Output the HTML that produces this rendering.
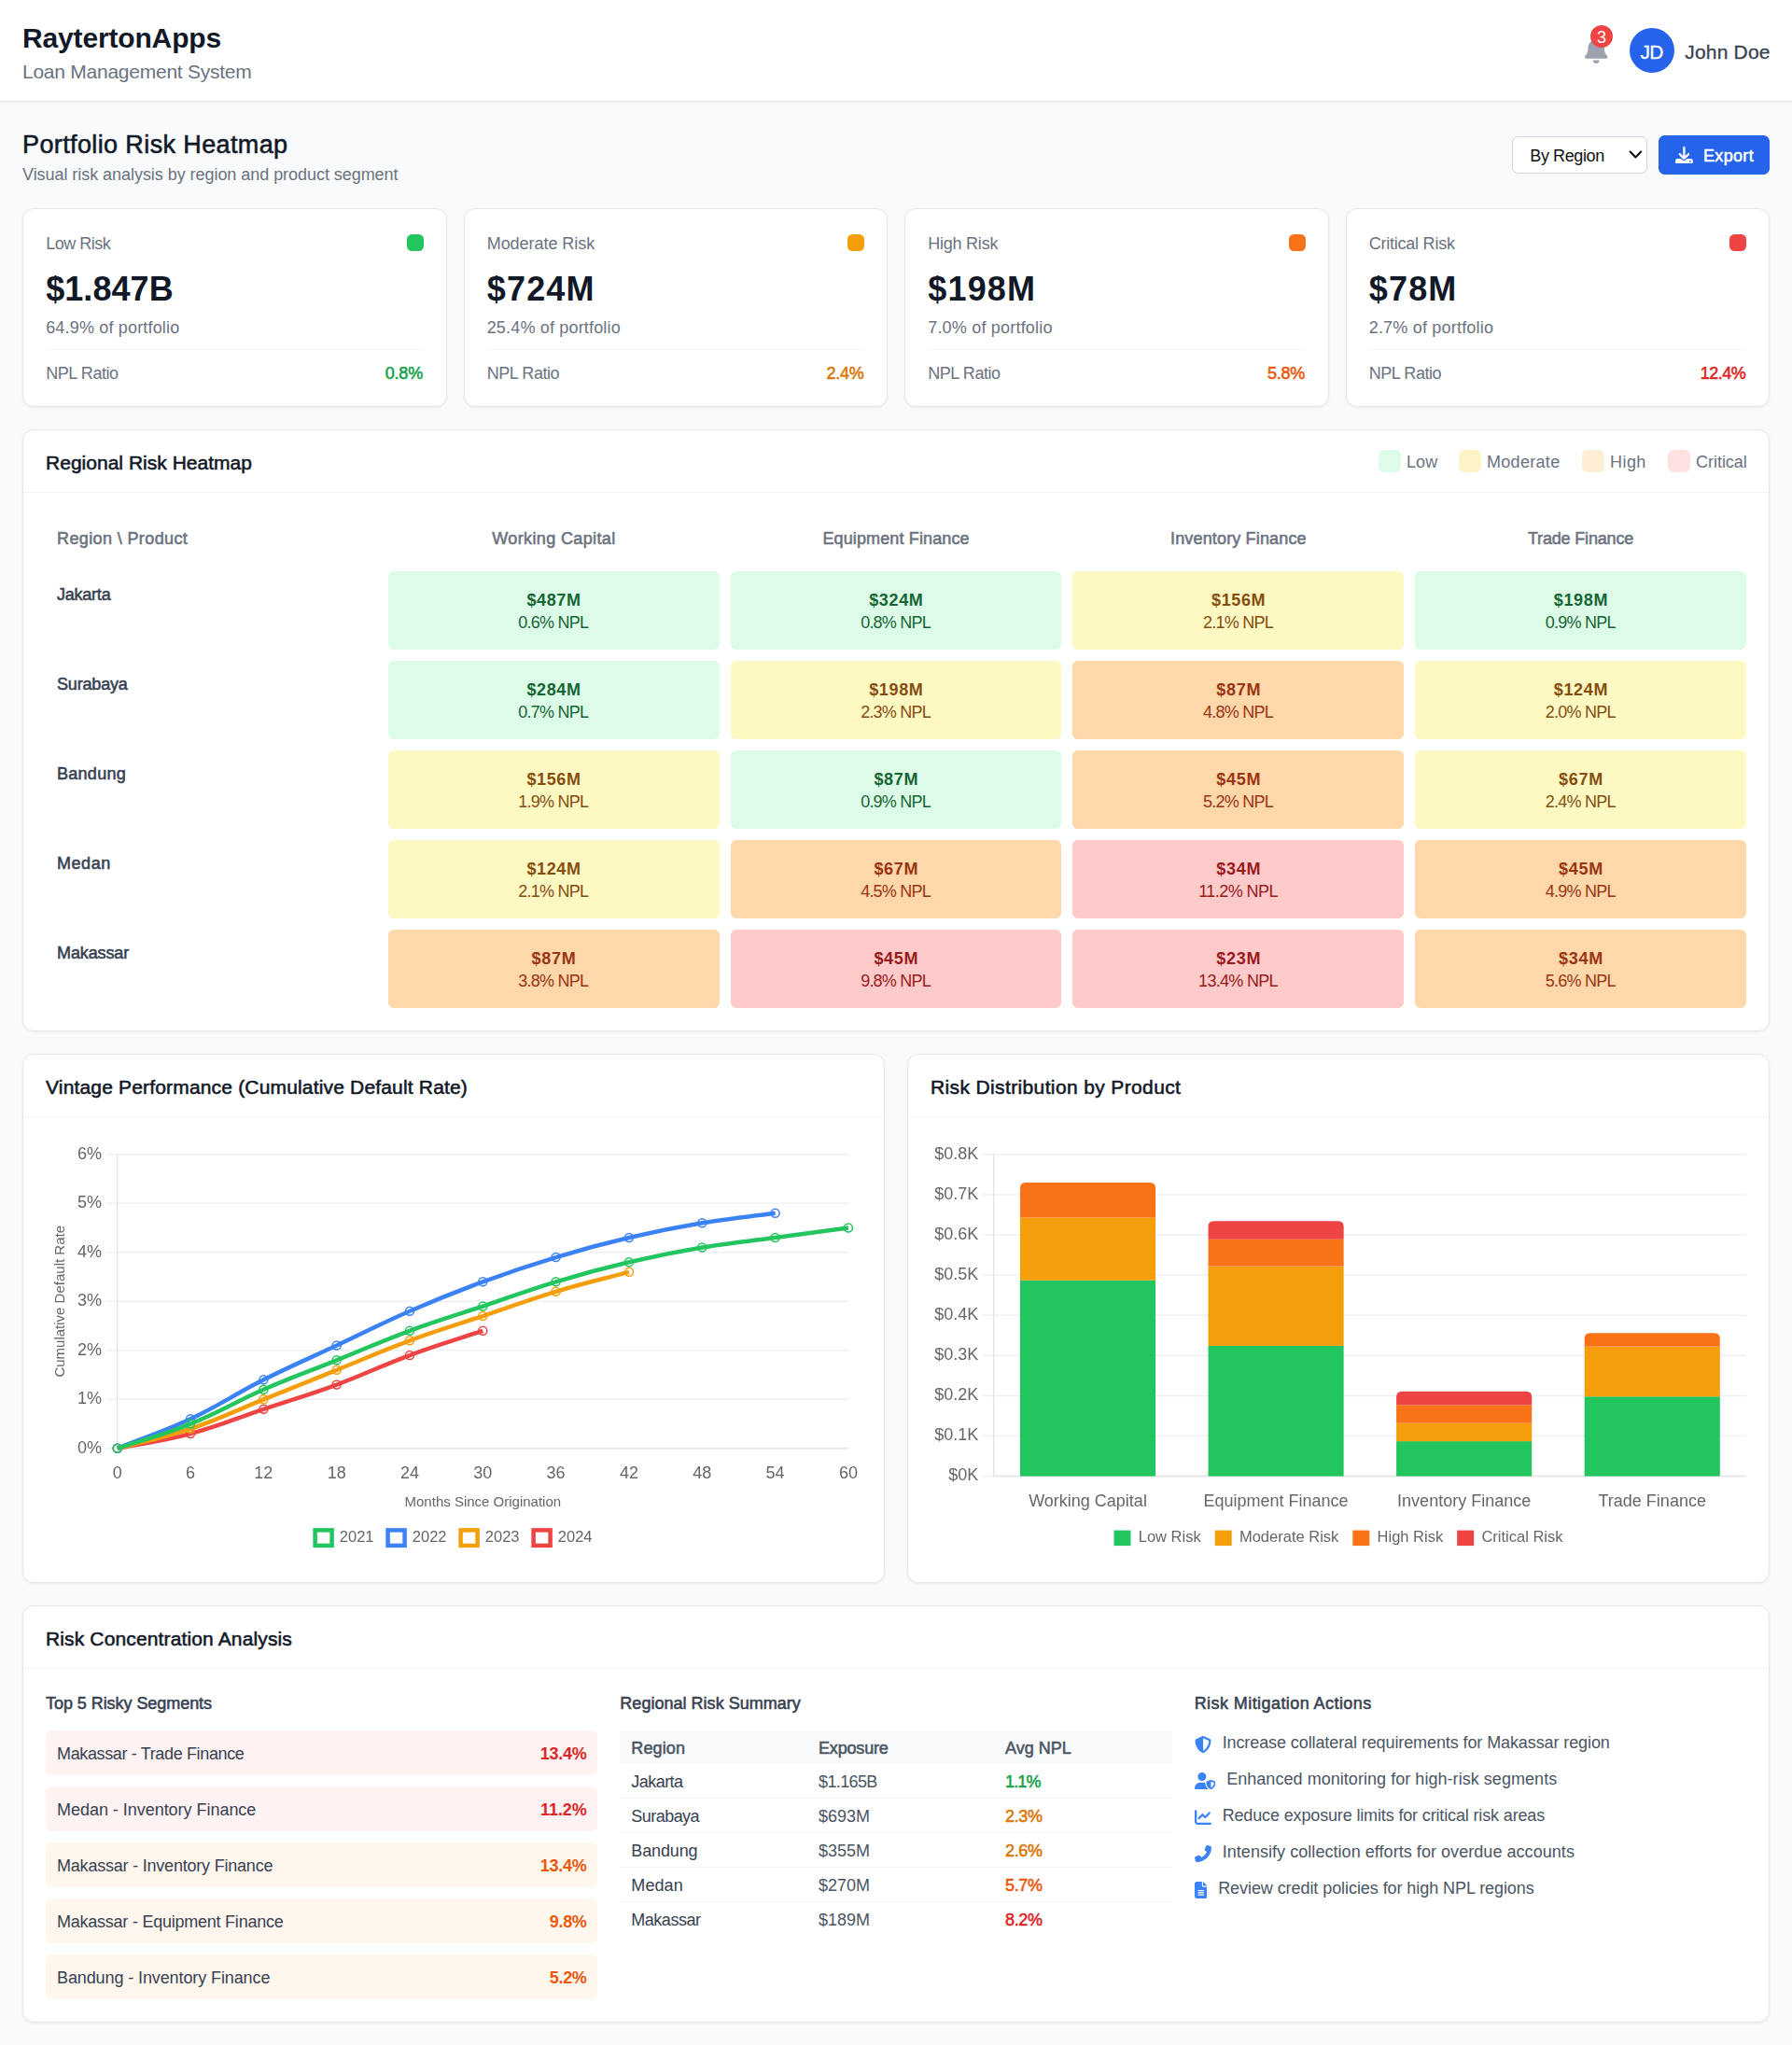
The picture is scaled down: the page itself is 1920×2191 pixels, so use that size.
<!DOCTYPE html>
<html><head><meta charset="utf-8"><title>Portfolio Risk Heatmap</title>
<style>
html,body{margin:0;padding:0}
body{width:1920px;height:2191px;background:#f9fafb;position:relative;overflow-x:hidden;font-family:"Liberation Sans",sans-serif;}
#p{position:absolute;left:0;top:0;width:1920px;height:2191px;overflow:hidden}
#p div,#p span,#p svg{position:absolute}
.t{white-space:nowrap;display:block}
</style></head><body><div id="p">
<header>
<div style="left:0px;top:0px;width:1920px;height:108px;background:#fff;border-bottom:1px solid #e5e7eb;box-shadow:0 1px 3px rgba(0,0,0,.05);"></div>
<span class="t" style="top:26.00px;font-size:30px;line-height:30px;color:#111827;letter-spacing:-0.156px;font-weight:700;left:24.00px;">RaytertonApps</span>
<span class="t" style="top:66.22px;font-size:21px;line-height:21px;color:#6b7280;letter-spacing:-0.249px;left:24.00px;">Loan Management System</span>
<svg style="left:1698.2px;top:39.9px;width:24.5px;height:28px" viewBox="0 0 448 512"><path fill="#9ca3af" d="M224 0c-17.700 0-32 14.300-32 32V51.200C119 66 64 130.600 64 208v18.800c0 47-17.300 92.400-48.500 127.600l-7.400 8.300c-8.400 9.400-10.400 22.900-5.300 34.400S19.400 416 32 416H416c12.600 0 24-7.400 29.200-18.900s3.100-25-5.300-34.400l-7.400-8.300C401.300 319.200 384 273.900 384 226.800V208c0-77.400-55-142-128-156.800V32c0-17.700-14.300-32-32-32zm45.300 493.300c12-12 18.700-28.300 18.700-45.300H224 160c0 17 6.700 33.300 18.700 45.300s28.300 18.700 45.300 18.700s33.300-6.700 45.300-18.700z"/></svg>
<div style="left:1704px;top:27px;width:24px;height:24px;background:#ef4444;border-radius:50%;"></div>
<span class="t" style="top:30.96px;font-size:18px;line-height:18px;color:#fff;letter-spacing:-0.011px;left:1710.99px;">3</span>
<div style="left:1746px;top:30px;width:48px;height:48px;background:#2563eb;border-radius:50%;"></div>
<span class="t" style="top:44.52px;font-size:21px;line-height:21px;color:#fff;letter-spacing:-0.583px;-webkit-text-stroke:0.3px;left:1757.46px;">JD</span>
<span class="t" style="top:45.12px;font-size:21px;line-height:21px;color:#374151;letter-spacing:0.200px;-webkit-text-stroke:0.3px;left:1805.20px;">John Doe</span>
</header><main><section aria-label="Summary">
<span class="t" style="top:142.14px;font-size:27px;line-height:27px;color:#111827;letter-spacing:0.382px;-webkit-text-stroke:0.55px;left:24.00px;">Portfolio Risk Heatmap</span>
<span class="t" style="top:178.46px;font-size:18px;line-height:18px;color:#6b7280;letter-spacing:-0.048px;left:24.00px;">Visual risk analysis by region and product segment</span>
<div style="left:1620px;top:146px;width:145px;height:40px;background:#fff;border:1px solid #d1d5db;border-radius:6.5px;box-sizing:border-box;"></div>
<span class="t" style="top:157.66px;font-size:18px;line-height:18px;color:#111;letter-spacing:-0.394px;left:1639.30px;">By Region</span>
<svg style="left:1744px;top:159px;width:17px;height:14px" viewBox="0 0 17 14"><path d="M2.6 3.6 L8.4 9.6 L14.2 3.6" fill="none" stroke="#111" stroke-width="2.1" stroke-linecap="round" stroke-linejoin="round"/></svg>
<div style="left:1777px;top:145px;width:119px;height:42px;background:#2563eb;border-radius:6.5px;"></div>
<svg style="left:1795px;top:156.6px;width:18.8px;height:18.8px" viewBox="0 0 512 512"><path fill="#fff" d="M288 32c0-17.700-14.300-32-32-32s-32 14.300-32 32V274.700l-73.400-73.400c-12.500-12.500-32.800-12.500-45.300 0s-12.500 32.800 0 45.300l128 128c12.500 12.500 32.800 12.500 45.300 0l128-128c12.500-12.500 12.500-32.800 0-45.300s-32.800-12.500-45.300 0L288 274.700V32zM64 352c-35.300 0-64 28.700-64 64v32c0 35.300 28.700 64 64 64H448c35.300 0 64-28.700 64-64V416c0-35.300-28.700-64-64-64H346.500l-45.300 45.300c-25 25-65.500 25-90.500 0L165.500 352H64zm368 56a24 24 0 1 1 0 48 24 24 0 1 1 0-48z"/></svg>
<span class="t" style="top:157.66px;font-size:18px;line-height:18px;color:#fff;letter-spacing:0.330px;-webkit-text-stroke:0.55px;left:1825.00px;">Export</span>
<div style="left:24px;top:223px;width:454.5px;height:213px;background:#fff;border:1px solid #e5e7eb;border-radius:12px;box-shadow:0 1px 3px rgba(0,0,0,.06);box-sizing:border-box;"></div>
<span class="t" style="top:252.16px;font-size:18px;line-height:18px;color:#6b7280;letter-spacing:-0.502px;left:49.20px;">Low Risk</span>
<div style="left:435.5px;top:251px;width:18px;height:18px;background:#22c55e;border-radius:5.5px;"></div>
<span class="t" style="top:292.13px;font-size:36px;line-height:36px;color:#111827;letter-spacing:0.056px;font-weight:700;left:49.20px;">$1.847B</span>
<span class="t" style="top:342.26px;font-size:18px;line-height:18px;color:#6b7280;letter-spacing:0.173px;left:49.20px;">64.9% of portfolio</span>
<div style="left:49px;top:374px;width:404.5px;height:1px;background:#f3f4f6;"></div>
<span class="t" style="top:391.06px;font-size:18px;line-height:18px;color:#6b7280;letter-spacing:-0.430px;left:49.20px;">NPL Ratio</span>
<span class="t" style="top:391.06px;font-size:18px;line-height:18px;color:#16a34a;letter-spacing:-0.182px;-webkit-text-stroke:0.55px;left:412.72px;">0.8%</span>
<div style="left:496.5px;top:223px;width:454.5px;height:213px;background:#fff;border:1px solid #e5e7eb;border-radius:12px;box-shadow:0 1px 3px rgba(0,0,0,.06);box-sizing:border-box;"></div>
<span class="t" style="top:252.16px;font-size:18px;line-height:18px;color:#6b7280;letter-spacing:-0.042px;left:521.70px;">Moderate Risk</span>
<div style="left:908px;top:251px;width:18px;height:18px;background:#f59e0b;border-radius:5.5px;"></div>
<span class="t" style="top:292.13px;font-size:36px;line-height:36px;color:#111827;letter-spacing:1.200px;font-weight:700;left:521.70px;">$724M</span>
<span class="t" style="top:342.26px;font-size:18px;line-height:18px;color:#6b7280;letter-spacing:0.173px;left:521.70px;">25.4% of portfolio</span>
<div style="left:521.5px;top:374px;width:404.5px;height:1px;background:#f3f4f6;"></div>
<span class="t" style="top:391.06px;font-size:18px;line-height:18px;color:#6b7280;letter-spacing:-0.430px;left:521.70px;">NPL Ratio</span>
<span class="t" style="top:391.06px;font-size:18px;line-height:18px;color:#d97706;letter-spacing:-0.257px;-webkit-text-stroke:0.55px;left:885.44px;">2.4%</span>
<div style="left:969px;top:223px;width:454.5px;height:213px;background:#fff;border:1px solid #e5e7eb;border-radius:12px;box-shadow:0 1px 3px rgba(0,0,0,.06);box-sizing:border-box;"></div>
<span class="t" style="top:252.16px;font-size:18px;line-height:18px;color:#6b7280;letter-spacing:-0.224px;left:994.20px;">High Risk</span>
<div style="left:1380.5px;top:251px;width:18px;height:18px;background:#f97316;border-radius:5.5px;"></div>
<span class="t" style="top:292.13px;font-size:36px;line-height:36px;color:#111827;letter-spacing:1.200px;font-weight:700;left:994.20px;">$198M</span>
<span class="t" style="top:342.26px;font-size:18px;line-height:18px;color:#6b7280;letter-spacing:0.201px;left:994.20px;">7.0% of portfolio</span>
<div style="left:994px;top:374px;width:404.5px;height:1px;background:#f3f4f6;"></div>
<span class="t" style="top:391.06px;font-size:18px;line-height:18px;color:#6b7280;letter-spacing:-0.430px;left:994.20px;">NPL Ratio</span>
<span class="t" style="top:391.06px;font-size:18px;line-height:18px;color:#ea580c;letter-spacing:-0.257px;-webkit-text-stroke:0.55px;left:1357.94px;">5.8%</span>
<div style="left:1441.5px;top:223px;width:454.5px;height:213px;background:#fff;border:1px solid #e5e7eb;border-radius:12px;box-shadow:0 1px 3px rgba(0,0,0,.06);box-sizing:border-box;"></div>
<span class="t" style="top:252.16px;font-size:18px;line-height:18px;color:#6b7280;letter-spacing:-0.231px;left:1466.70px;">Critical Risk</span>
<div style="left:1853px;top:251px;width:18px;height:18px;background:#ef4444;border-radius:5.5px;"></div>
<span class="t" style="top:292.13px;font-size:36px;line-height:36px;color:#111827;letter-spacing:1.200px;font-weight:700;left:1466.70px;">$78M</span>
<span class="t" style="top:342.26px;font-size:18px;line-height:18px;color:#6b7280;letter-spacing:0.201px;left:1466.70px;">2.7% of portfolio</span>
<div style="left:1466.5px;top:374px;width:404.5px;height:1px;background:#f3f4f6;"></div>
<span class="t" style="top:391.06px;font-size:18px;line-height:18px;color:#6b7280;letter-spacing:-0.430px;left:1466.70px;">NPL Ratio</span>
<span class="t" style="top:391.06px;font-size:18px;line-height:18px;color:#dc2626;letter-spacing:-0.548px;-webkit-text-stroke:0.55px;left:1821.85px;">12.4%</span>
</section>
<section aria-label="Regional Risk Heatmap">
<div style="left:24px;top:460px;width:1872px;height:645px;background:#fff;border:1px solid #e5e7eb;border-radius:12px;box-shadow:0 1px 3px rgba(0,0,0,.06);box-sizing:border-box;"></div>
<span class="t" style="top:485.12px;font-size:21px;line-height:21px;color:#111827;letter-spacing:0.019px;-webkit-text-stroke:0.55px;left:49.00px;">Regional Risk Heatmap</span>
<div style="left:25px;top:527px;width:1870px;height:1px;background:#f3f4f6;"></div>
<div style="left:1477px;top:482px;width:24px;height:24px;background:#dcfce7;border-radius:6px;"></div>
<span class="t" style="top:486.16px;font-size:18px;line-height:18px;color:#6b7280;letter-spacing:0.060px;left:1507.00px;">Low</span>
<div style="left:1563px;top:482px;width:24px;height:24px;background:#fef3c7;border-radius:6px;"></div>
<span class="t" style="top:486.16px;font-size:18px;line-height:18px;color:#6b7280;letter-spacing:0.307px;left:1593.00px;">Moderate</span>
<div style="left:1695px;top:482px;width:24px;height:24px;background:#ffedd5;border-radius:6px;"></div>
<span class="t" style="top:486.16px;font-size:18px;line-height:18px;color:#6b7280;letter-spacing:0.445px;left:1725.00px;">High</span>
<div style="left:1787px;top:482px;width:24px;height:24px;background:#fee2e2;border-radius:6px;"></div>
<span class="t" style="top:486.16px;font-size:18px;line-height:18px;color:#6b7280;letter-spacing:-0.025px;left:1817.00px;">Critical</span>
<span class="t" style="top:568.06px;font-size:18px;line-height:18px;color:#6b7280;letter-spacing:0.381px;-webkit-text-stroke:0.55px;left:61.00px;">Region \ Product</span>
<span class="t" style="top:568.06px;font-size:18px;line-height:18px;color:#6b7280;letter-spacing:0.372px;-webkit-text-stroke:0.55px;left:527.24px;">Working Capital</span>
<span class="t" style="top:568.06px;font-size:18px;line-height:18px;color:#6b7280;letter-spacing:0.134px;-webkit-text-stroke:0.55px;left:881.38px;">Equipment Finance</span>
<span class="t" style="top:568.06px;font-size:18px;line-height:18px;color:#6b7280;letter-spacing:0.154px;-webkit-text-stroke:0.55px;left:1254.03px;">Inventory Finance</span>
<span class="t" style="top:568.06px;font-size:18px;line-height:18px;color:#6b7280;letter-spacing:-0.169px;-webkit-text-stroke:0.55px;left:1636.92px;">Trade Finance</span>
<span class="t" style="top:627.96px;font-size:18px;line-height:18px;color:#374151;letter-spacing:-0.229px;-webkit-text-stroke:0.55px;left:61.00px;">Jakarta</span>
<div style="left:415.8px;top:612px;width:354.8px;height:84px;background:#dcfce7;border-radius:6px;"></div>
<span class="t" style="top:634.06px;font-size:18px;line-height:18px;color:#166534;letter-spacing:0.635px;font-weight:700;left:564.41px;">$487M</span>
<span class="t" style="top:658.06px;font-size:18px;line-height:18px;color:#166534;letter-spacing:-0.759px;left:555.34px;">0.6% NPL</span>
<div style="left:782.6px;top:612px;width:354.8px;height:84px;background:#dcfce7;border-radius:6px;"></div>
<span class="t" style="top:634.06px;font-size:18px;line-height:18px;color:#166534;letter-spacing:0.635px;font-weight:700;left:931.21px;">$324M</span>
<span class="t" style="top:658.06px;font-size:18px;line-height:18px;color:#166534;letter-spacing:-0.759px;left:922.14px;">0.8% NPL</span>
<div style="left:1149.4px;top:612px;width:354.8px;height:84px;background:#fef9c3;border-radius:6px;"></div>
<span class="t" style="top:634.06px;font-size:18px;line-height:18px;color:#854d0e;letter-spacing:0.635px;font-weight:700;left:1298.01px;">$156M</span>
<span class="t" style="top:658.06px;font-size:18px;line-height:18px;color:#854d0e;letter-spacing:-0.759px;left:1288.94px;">2.1% NPL</span>
<div style="left:1516.2px;top:612px;width:354.8px;height:84px;background:#dcfce7;border-radius:6px;"></div>
<span class="t" style="top:634.06px;font-size:18px;line-height:18px;color:#166534;letter-spacing:0.635px;font-weight:700;left:1664.81px;">$198M</span>
<span class="t" style="top:658.06px;font-size:18px;line-height:18px;color:#166534;letter-spacing:-0.759px;left:1655.74px;">0.9% NPL</span>
<span class="t" style="top:723.96px;font-size:18px;line-height:18px;color:#374151;letter-spacing:-0.178px;-webkit-text-stroke:0.55px;left:61.00px;">Surabaya</span>
<div style="left:415.8px;top:708px;width:354.8px;height:84px;background:#dcfce7;border-radius:6px;"></div>
<span class="t" style="top:730.06px;font-size:18px;line-height:18px;color:#166534;letter-spacing:0.635px;font-weight:700;left:564.41px;">$284M</span>
<span class="t" style="top:754.06px;font-size:18px;line-height:18px;color:#166534;letter-spacing:-0.759px;left:555.34px;">0.7% NPL</span>
<div style="left:782.6px;top:708px;width:354.8px;height:84px;background:#fef9c3;border-radius:6px;"></div>
<span class="t" style="top:730.06px;font-size:18px;line-height:18px;color:#854d0e;letter-spacing:0.635px;font-weight:700;left:931.21px;">$198M</span>
<span class="t" style="top:754.06px;font-size:18px;line-height:18px;color:#854d0e;letter-spacing:-0.759px;left:922.14px;">2.3% NPL</span>
<div style="left:1149.4px;top:708px;width:354.8px;height:84px;background:#fed7aa;border-radius:6px;"></div>
<span class="t" style="top:730.06px;font-size:18px;line-height:18px;color:#9a3412;letter-spacing:0.728px;font-weight:700;left:1303.19px;">$87M</span>
<span class="t" style="top:754.06px;font-size:18px;line-height:18px;color:#9a3412;letter-spacing:-0.759px;left:1288.94px;">4.8% NPL</span>
<div style="left:1516.2px;top:708px;width:354.8px;height:84px;background:#fef9c3;border-radius:6px;"></div>
<span class="t" style="top:730.06px;font-size:18px;line-height:18px;color:#854d0e;letter-spacing:0.635px;font-weight:700;left:1664.81px;">$124M</span>
<span class="t" style="top:754.06px;font-size:18px;line-height:18px;color:#854d0e;letter-spacing:-0.759px;left:1655.74px;">2.0% NPL</span>
<span class="t" style="top:819.96px;font-size:18px;line-height:18px;color:#374151;letter-spacing:0.279px;-webkit-text-stroke:0.55px;left:61.00px;">Bandung</span>
<div style="left:415.8px;top:804px;width:354.8px;height:84px;background:#fef9c3;border-radius:6px;"></div>
<span class="t" style="top:826.06px;font-size:18px;line-height:18px;color:#854d0e;letter-spacing:0.635px;font-weight:700;left:564.41px;">$156M</span>
<span class="t" style="top:850.06px;font-size:18px;line-height:18px;color:#854d0e;letter-spacing:-0.759px;left:555.34px;">1.9% NPL</span>
<div style="left:782.6px;top:804px;width:354.8px;height:84px;background:#dcfce7;border-radius:6px;"></div>
<span class="t" style="top:826.06px;font-size:18px;line-height:18px;color:#166534;letter-spacing:0.728px;font-weight:700;left:936.39px;">$87M</span>
<span class="t" style="top:850.06px;font-size:18px;line-height:18px;color:#166534;letter-spacing:-0.759px;left:922.14px;">0.9% NPL</span>
<div style="left:1149.4px;top:804px;width:354.8px;height:84px;background:#fed7aa;border-radius:6px;"></div>
<span class="t" style="top:826.06px;font-size:18px;line-height:18px;color:#9a3412;letter-spacing:0.728px;font-weight:700;left:1303.19px;">$45M</span>
<span class="t" style="top:850.06px;font-size:18px;line-height:18px;color:#9a3412;letter-spacing:-0.759px;left:1288.94px;">5.2% NPL</span>
<div style="left:1516.2px;top:804px;width:354.8px;height:84px;background:#fef9c3;border-radius:6px;"></div>
<span class="t" style="top:826.06px;font-size:18px;line-height:18px;color:#854d0e;letter-spacing:0.728px;font-weight:700;left:1669.99px;">$67M</span>
<span class="t" style="top:850.06px;font-size:18px;line-height:18px;color:#854d0e;letter-spacing:-0.759px;left:1655.74px;">2.4% NPL</span>
<span class="t" style="top:915.96px;font-size:18px;line-height:18px;color:#374151;letter-spacing:0.537px;-webkit-text-stroke:0.55px;left:61.00px;">Medan</span>
<div style="left:415.8px;top:900px;width:354.8px;height:84px;background:#fef9c3;border-radius:6px;"></div>
<span class="t" style="top:922.06px;font-size:18px;line-height:18px;color:#854d0e;letter-spacing:0.635px;font-weight:700;left:564.41px;">$124M</span>
<span class="t" style="top:946.06px;font-size:18px;line-height:18px;color:#854d0e;letter-spacing:-0.759px;left:555.34px;">2.1% NPL</span>
<div style="left:782.6px;top:900px;width:354.8px;height:84px;background:#fed7aa;border-radius:6px;"></div>
<span class="t" style="top:922.06px;font-size:18px;line-height:18px;color:#9a3412;letter-spacing:0.728px;font-weight:700;left:936.39px;">$67M</span>
<span class="t" style="top:946.06px;font-size:18px;line-height:18px;color:#9a3412;letter-spacing:-0.759px;left:922.14px;">4.5% NPL</span>
<div style="left:1149.4px;top:900px;width:354.8px;height:84px;background:#fecaca;border-radius:6px;"></div>
<span class="t" style="top:922.06px;font-size:18px;line-height:18px;color:#991b1b;letter-spacing:0.728px;font-weight:700;left:1303.19px;">$34M</span>
<span class="t" style="top:946.06px;font-size:18px;line-height:18px;color:#991b1b;letter-spacing:-0.561px;left:1284.18px;">11.2% NPL</span>
<div style="left:1516.2px;top:900px;width:354.8px;height:84px;background:#fed7aa;border-radius:6px;"></div>
<span class="t" style="top:922.06px;font-size:18px;line-height:18px;color:#9a3412;letter-spacing:0.728px;font-weight:700;left:1669.99px;">$45M</span>
<span class="t" style="top:946.06px;font-size:18px;line-height:18px;color:#9a3412;letter-spacing:-0.759px;left:1655.74px;">4.9% NPL</span>
<span class="t" style="top:1011.96px;font-size:18px;line-height:18px;color:#374151;letter-spacing:-0.116px;-webkit-text-stroke:0.55px;left:61.00px;">Makassar</span>
<div style="left:415.8px;top:996px;width:354.8px;height:84px;background:#fed7aa;border-radius:6px;"></div>
<span class="t" style="top:1018.06px;font-size:18px;line-height:18px;color:#9a3412;letter-spacing:0.728px;font-weight:700;left:569.59px;">$87M</span>
<span class="t" style="top:1042.06px;font-size:18px;line-height:18px;color:#9a3412;letter-spacing:-0.759px;left:555.34px;">3.8% NPL</span>
<div style="left:782.6px;top:996px;width:354.8px;height:84px;background:#fecaca;border-radius:6px;"></div>
<span class="t" style="top:1018.06px;font-size:18px;line-height:18px;color:#991b1b;letter-spacing:0.728px;font-weight:700;left:936.39px;">$45M</span>
<span class="t" style="top:1042.06px;font-size:18px;line-height:18px;color:#991b1b;letter-spacing:-0.759px;left:922.14px;">9.8% NPL</span>
<div style="left:1149.4px;top:996px;width:354.8px;height:84px;background:#fecaca;border-radius:6px;"></div>
<span class="t" style="top:1018.06px;font-size:18px;line-height:18px;color:#991b1b;letter-spacing:0.728px;font-weight:700;left:1303.19px;">$23M</span>
<span class="t" style="top:1042.06px;font-size:18px;line-height:18px;color:#991b1b;letter-spacing:-0.709px;left:1284.11px;">13.4% NPL</span>
<div style="left:1516.2px;top:996px;width:354.8px;height:84px;background:#fed7aa;border-radius:6px;"></div>
<span class="t" style="top:1018.06px;font-size:18px;line-height:18px;color:#9a3412;letter-spacing:0.728px;font-weight:700;left:1669.99px;">$34M</span>
<span class="t" style="top:1042.06px;font-size:18px;line-height:18px;color:#9a3412;letter-spacing:-0.759px;left:1655.74px;">5.6% NPL</span>
</section>
<section aria-label="Charts">
<div style="left:24px;top:1129px;width:924px;height:567px;background:#fff;border:1px solid #e5e7eb;border-radius:12px;box-shadow:0 1px 3px rgba(0,0,0,.06);box-sizing:border-box;"></div>
<div style="left:972px;top:1129px;width:924px;height:567px;background:#fff;border:1px solid #e5e7eb;border-radius:12px;box-shadow:0 1px 3px rgba(0,0,0,.06);box-sizing:border-box;"></div>
<span class="t" style="top:1154.02px;font-size:21px;line-height:21px;color:#111827;letter-spacing:0.171px;-webkit-text-stroke:0.55px;left:49.00px;">Vintage Performance (Cumulative Default Rate)</span>
<span class="t" style="top:1154.02px;font-size:21px;line-height:21px;color:#111827;letter-spacing:0.370px;-webkit-text-stroke:0.55px;left:997.00px;">Risk Distribution by Product</span>
<div style="left:25px;top:1196px;width:922px;height:1px;background:#f3f4f6;"></div>
<div style="left:973px;top:1196px;width:922px;height:1px;background:#f3f4f6;"></div>
<svg style="left:0;top:1197px;width:1920px;height:498px;will-change:transform" viewBox="0 1197 1920 498"><line x1="113.75" x2="908.9" y1="1551.80" y2="1551.80" stroke="#edf1f6" stroke-width="1.5"/><text x="108.90" y="1556.50" font-size="18" text-anchor="end" fill="#666666" font-family="Liberation Sans, sans-serif" >0%</text><line x1="113.75" x2="908.9" y1="1499.30" y2="1499.30" stroke="#edf1f6" stroke-width="1.5"/><text x="108.90" y="1504.00" font-size="18" text-anchor="end" fill="#666666" font-family="Liberation Sans, sans-serif" >1%</text><line x1="113.75" x2="908.9" y1="1446.80" y2="1446.80" stroke="#edf1f6" stroke-width="1.5"/><text x="108.90" y="1451.50" font-size="18" text-anchor="end" fill="#666666" font-family="Liberation Sans, sans-serif" >2%</text><line x1="113.75" x2="908.9" y1="1394.30" y2="1394.30" stroke="#edf1f6" stroke-width="1.5"/><text x="108.90" y="1399.00" font-size="18" text-anchor="end" fill="#666666" font-family="Liberation Sans, sans-serif" >3%</text><line x1="113.75" x2="908.9" y1="1341.80" y2="1341.80" stroke="#edf1f6" stroke-width="1.5"/><text x="108.90" y="1346.50" font-size="18" text-anchor="end" fill="#666666" font-family="Liberation Sans, sans-serif" >4%</text><line x1="113.75" x2="908.9" y1="1289.30" y2="1289.30" stroke="#edf1f6" stroke-width="1.5"/><text x="108.90" y="1294.00" font-size="18" text-anchor="end" fill="#666666" font-family="Liberation Sans, sans-serif" >5%</text><line x1="113.75" x2="908.9" y1="1236.80" y2="1236.80" stroke="#edf1f6" stroke-width="1.5"/><text x="108.90" y="1241.50" font-size="18" text-anchor="end" fill="#666666" font-family="Liberation Sans, sans-serif" >6%</text><line x1="125.75" x2="125.75" y1="1236.05" y2="1552.55" stroke="#e4e5e7" stroke-width="1.5"/><line x1="125.75" x2="908.9" y1="1551.8" y2="1551.8" stroke="#e4e5e7" stroke-width="1.5"/><text x="125.75" y="1584.20" font-size="18" text-anchor="middle" fill="#666666" font-family="Liberation Sans, sans-serif" >0</text><text x="204.06" y="1584.20" font-size="18" text-anchor="middle" fill="#666666" font-family="Liberation Sans, sans-serif" >6</text><text x="282.38" y="1584.20" font-size="18" text-anchor="middle" fill="#666666" font-family="Liberation Sans, sans-serif" >12</text><text x="360.69" y="1584.20" font-size="18" text-anchor="middle" fill="#666666" font-family="Liberation Sans, sans-serif" >18</text><text x="439.01" y="1584.20" font-size="18" text-anchor="middle" fill="#666666" font-family="Liberation Sans, sans-serif" >24</text><text x="517.33" y="1584.20" font-size="18" text-anchor="middle" fill="#666666" font-family="Liberation Sans, sans-serif" >30</text><text x="595.64" y="1584.20" font-size="18" text-anchor="middle" fill="#666666" font-family="Liberation Sans, sans-serif" >36</text><text x="673.96" y="1584.20" font-size="18" text-anchor="middle" fill="#666666" font-family="Liberation Sans, sans-serif" >42</text><text x="752.27" y="1584.20" font-size="18" text-anchor="middle" fill="#666666" font-family="Liberation Sans, sans-serif" >48</text><text x="830.58" y="1584.20" font-size="18" text-anchor="middle" fill="#666666" font-family="Liberation Sans, sans-serif" >54</text><text x="908.90" y="1584.20" font-size="18" text-anchor="middle" fill="#666666" font-family="Liberation Sans, sans-serif" >60</text><text x="517.33" y="1613.60" font-size="15" text-anchor="middle" fill="#666666" font-family="Liberation Sans, sans-serif" >Months Since Origination</text><text transform="translate(69,1394.30) rotate(-90)" font-size="15" text-anchor="middle" fill="#666666" font-family="Liberation Sans, sans-serif">Cumulative Default Rate</text><path d="M125.75 1551.80 C157.08 1545.50 173.26 1544.31 204.06 1536.05 C235.91 1527.51 251.05 1520.30 282.38 1509.80 C313.71 1499.30 329.71 1494.97 360.69 1483.55 C392.36 1471.87 407.34 1463.73 439.01 1452.05 C470.00 1440.63 486.00 1436.30 517.33 1425.80" fill="none" stroke="#ef4444" stroke-width="4.5" stroke-linecap="butt" stroke-linejoin="miter"/><circle cx="125.75" cy="1551.80" r="4.5" fill="none" stroke="#ef4444" stroke-width="1.5"/><circle cx="204.06" cy="1536.05" r="4.5" fill="none" stroke="#ef4444" stroke-width="1.5"/><circle cx="282.38" cy="1509.80" r="4.5" fill="none" stroke="#ef4444" stroke-width="1.5"/><circle cx="360.69" cy="1483.55" r="4.5" fill="none" stroke="#ef4444" stroke-width="1.5"/><circle cx="439.01" cy="1452.05" r="4.5" fill="none" stroke="#ef4444" stroke-width="1.5"/><circle cx="517.33" cy="1425.80" r="4.5" fill="none" stroke="#ef4444" stroke-width="1.5"/><path d="M125.75 1551.80 C157.08 1543.40 173.37 1541.09 204.06 1530.80 C236.02 1520.09 251.05 1511.90 282.38 1499.30 C313.71 1486.70 329.37 1480.40 360.69 1467.80 C392.02 1455.20 407.34 1447.98 439.01 1436.30 C470.00 1424.88 486.00 1420.55 517.33 1410.05 C548.65 1399.55 564.02 1393.34 595.64 1383.80 C626.68 1374.44 642.63 1371.20 673.96 1362.80" fill="none" stroke="#f59e0b" stroke-width="4.5" stroke-linecap="butt" stroke-linejoin="miter"/><circle cx="125.75" cy="1551.80" r="4.5" fill="none" stroke="#f59e0b" stroke-width="1.5"/><circle cx="204.06" cy="1530.80" r="4.5" fill="none" stroke="#f59e0b" stroke-width="1.5"/><circle cx="282.38" cy="1499.30" r="4.5" fill="none" stroke="#f59e0b" stroke-width="1.5"/><circle cx="360.69" cy="1467.80" r="4.5" fill="none" stroke="#f59e0b" stroke-width="1.5"/><circle cx="439.01" cy="1436.30" r="4.5" fill="none" stroke="#f59e0b" stroke-width="1.5"/><circle cx="517.33" cy="1410.05" r="4.5" fill="none" stroke="#f59e0b" stroke-width="1.5"/><circle cx="595.64" cy="1383.80" r="4.5" fill="none" stroke="#f59e0b" stroke-width="1.5"/><circle cx="673.96" cy="1362.80" r="4.5" fill="none" stroke="#f59e0b" stroke-width="1.5"/><path d="M125.75 1551.80 C157.08 1539.20 173.54 1534.62 204.06 1520.30 C236.20 1505.22 250.63 1494.26 282.38 1478.30 C313.28 1462.76 329.37 1456.25 360.69 1441.55 C392.02 1426.85 407.30 1418.62 439.01 1404.80 C469.95 1391.32 485.66 1384.98 517.33 1373.30 C548.31 1361.88 564.02 1356.59 595.64 1347.05 C626.68 1337.69 642.40 1333.45 673.96 1326.05 C705.05 1318.75 720.77 1315.58 752.27 1310.30 C783.43 1305.08 799.26 1304.00 830.58 1299.80" fill="none" stroke="#3b82f6" stroke-width="4.5" stroke-linecap="butt" stroke-linejoin="miter"/><circle cx="125.75" cy="1551.80" r="4.5" fill="none" stroke="#3b82f6" stroke-width="1.5"/><circle cx="204.06" cy="1520.30" r="4.5" fill="none" stroke="#3b82f6" stroke-width="1.5"/><circle cx="282.38" cy="1478.30" r="4.5" fill="none" stroke="#3b82f6" stroke-width="1.5"/><circle cx="360.69" cy="1441.55" r="4.5" fill="none" stroke="#3b82f6" stroke-width="1.5"/><circle cx="439.01" cy="1404.80" r="4.5" fill="none" stroke="#3b82f6" stroke-width="1.5"/><circle cx="517.33" cy="1373.30" r="4.5" fill="none" stroke="#3b82f6" stroke-width="1.5"/><circle cx="595.64" cy="1347.05" r="4.5" fill="none" stroke="#3b82f6" stroke-width="1.5"/><circle cx="673.96" cy="1326.05" r="4.5" fill="none" stroke="#3b82f6" stroke-width="1.5"/><circle cx="752.27" cy="1310.30" r="4.5" fill="none" stroke="#3b82f6" stroke-width="1.5"/><circle cx="830.58" cy="1299.80" r="4.5" fill="none" stroke="#3b82f6" stroke-width="1.5"/><path d="M125.75 1551.80 C157.08 1541.30 173.46 1537.86 204.06 1525.55 C236.12 1512.66 250.67 1502.62 282.38 1488.80 C313.32 1475.32 329.37 1469.90 360.69 1457.30 C392.02 1444.70 407.34 1437.48 439.01 1425.80 C470.00 1414.38 486.00 1410.05 517.33 1399.55 C548.65 1389.05 564.02 1382.84 595.64 1373.30 C626.68 1363.94 642.40 1359.70 673.96 1352.30 C705.05 1345.00 720.77 1341.83 752.27 1336.55 C783.43 1331.33 799.26 1330.25 830.58 1326.05 C861.91 1321.85 877.57 1319.75 908.90 1315.55" fill="none" stroke="#22c55e" stroke-width="4.5" stroke-linecap="butt" stroke-linejoin="miter"/><circle cx="125.75" cy="1551.80" r="4.5" fill="none" stroke="#22c55e" stroke-width="1.5"/><circle cx="204.06" cy="1525.55" r="4.5" fill="none" stroke="#22c55e" stroke-width="1.5"/><circle cx="282.38" cy="1488.80" r="4.5" fill="none" stroke="#22c55e" stroke-width="1.5"/><circle cx="360.69" cy="1457.30" r="4.5" fill="none" stroke="#22c55e" stroke-width="1.5"/><circle cx="439.01" cy="1425.80" r="4.5" fill="none" stroke="#22c55e" stroke-width="1.5"/><circle cx="517.33" cy="1399.55" r="4.5" fill="none" stroke="#22c55e" stroke-width="1.5"/><circle cx="595.64" cy="1373.30" r="4.5" fill="none" stroke="#22c55e" stroke-width="1.5"/><circle cx="673.96" cy="1352.30" r="4.5" fill="none" stroke="#22c55e" stroke-width="1.5"/><circle cx="752.27" cy="1336.55" r="4.5" fill="none" stroke="#22c55e" stroke-width="1.5"/><circle cx="830.58" cy="1326.05" r="4.5" fill="none" stroke="#22c55e" stroke-width="1.5"/><circle cx="908.90" cy="1315.55" r="4.5" fill="none" stroke="#22c55e" stroke-width="1.5"/><rect x="337.60" y="1639.4" width="18" height="16.5" fill="none" stroke="#22c55e" stroke-width="4.5"/><text x="363.85" y="1652.30" font-size="16.5" text-anchor="start" fill="#666666" font-family="Liberation Sans, sans-serif" >2021</text><rect x="415.60" y="1639.4" width="18" height="16.5" fill="none" stroke="#3b82f6" stroke-width="4.5"/><text x="441.85" y="1652.30" font-size="16.5" text-anchor="start" fill="#666666" font-family="Liberation Sans, sans-serif" >2022</text><rect x="493.60" y="1639.4" width="18" height="16.5" fill="none" stroke="#f59e0b" stroke-width="4.5"/><text x="519.85" y="1652.30" font-size="16.5" text-anchor="start" fill="#666666" font-family="Liberation Sans, sans-serif" >2023</text><rect x="571.60" y="1639.4" width="18" height="16.5" fill="none" stroke="#ef4444" stroke-width="4.5"/><text x="597.85" y="1652.30" font-size="16.5" text-anchor="start" fill="#666666" font-family="Liberation Sans, sans-serif" >2024</text><line x1="1052.75" x2="1871.0" y1="1581.60" y2="1581.60" stroke="#edf1f6" stroke-width="1.5"/><text x="1048.25" y="1586.30" font-size="18" text-anchor="end" fill="#666666" font-family="Liberation Sans, sans-serif" >$0K</text><line x1="1052.75" x2="1871.0" y1="1538.50" y2="1538.50" stroke="#edf1f6" stroke-width="1.5"/><text x="1048.25" y="1543.20" font-size="18" text-anchor="end" fill="#666666" font-family="Liberation Sans, sans-serif" >$0.1K</text><line x1="1052.75" x2="1871.0" y1="1495.40" y2="1495.40" stroke="#edf1f6" stroke-width="1.5"/><text x="1048.25" y="1500.10" font-size="18" text-anchor="end" fill="#666666" font-family="Liberation Sans, sans-serif" >$0.2K</text><line x1="1052.75" x2="1871.0" y1="1452.30" y2="1452.30" stroke="#edf1f6" stroke-width="1.5"/><text x="1048.25" y="1457.00" font-size="18" text-anchor="end" fill="#666666" font-family="Liberation Sans, sans-serif" >$0.3K</text><line x1="1052.75" x2="1871.0" y1="1409.20" y2="1409.20" stroke="#edf1f6" stroke-width="1.5"/><text x="1048.25" y="1413.90" font-size="18" text-anchor="end" fill="#666666" font-family="Liberation Sans, sans-serif" >$0.4K</text><line x1="1052.75" x2="1871.0" y1="1366.10" y2="1366.10" stroke="#edf1f6" stroke-width="1.5"/><text x="1048.25" y="1370.80" font-size="18" text-anchor="end" fill="#666666" font-family="Liberation Sans, sans-serif" >$0.5K</text><line x1="1052.75" x2="1871.0" y1="1323.00" y2="1323.00" stroke="#edf1f6" stroke-width="1.5"/><text x="1048.25" y="1327.70" font-size="18" text-anchor="end" fill="#666666" font-family="Liberation Sans, sans-serif" >$0.6K</text><line x1="1052.75" x2="1871.0" y1="1279.90" y2="1279.90" stroke="#edf1f6" stroke-width="1.5"/><text x="1048.25" y="1284.60" font-size="18" text-anchor="end" fill="#666666" font-family="Liberation Sans, sans-serif" >$0.7K</text><line x1="1052.75" x2="1871.0" y1="1236.80" y2="1236.80" stroke="#edf1f6" stroke-width="1.5"/><text x="1048.25" y="1241.50" font-size="18" text-anchor="end" fill="#666666" font-family="Liberation Sans, sans-serif" >$0.8K</text><line x1="1064.75" x2="1064.75" y1="1236.05" y2="1582.35" stroke="#e4e5e7" stroke-width="1.5"/><line x1="1064.75" x2="1871.0" y1="1581.6" y2="1581.6" stroke="#e4e5e7" stroke-width="1.5"/><rect x="1092.97" y="1371.70" width="145.12" height="209.90" fill="#22c55e"/><rect x="1092.97" y="1304.47" width="145.12" height="67.24" fill="#f59e0b"/><path d="M1092.97 1304.47 L1092.97 1272.97 Q1092.97 1266.97 1098.97 1266.97 L1232.09 1266.97 Q1238.09 1266.97 1238.09 1272.97 L1238.09 1304.47 Z" fill="#f97316"/><text x="1165.53" y="1613.60" font-size="18" text-anchor="middle" fill="#666666" font-family="Liberation Sans, sans-serif" >Working Capital</text><rect x="1294.53" y="1441.96" width="145.12" height="139.64" fill="#22c55e"/><rect x="1294.53" y="1356.62" width="145.12" height="85.34" fill="#f59e0b"/><rect x="1294.53" y="1327.74" width="145.12" height="28.88" fill="#f97316"/><path d="M1294.53 1327.74 L1294.53 1314.35 Q1294.53 1308.35 1300.53 1308.35 L1433.66 1308.35 Q1439.66 1308.35 1439.66 1314.35 L1439.66 1327.74 Z" fill="#ef4444"/><text x="1367.09" y="1613.60" font-size="18" text-anchor="middle" fill="#666666" font-family="Liberation Sans, sans-serif" >Equipment Finance</text><rect x="1496.09" y="1544.10" width="145.12" height="37.50" fill="#22c55e"/><rect x="1496.09" y="1524.71" width="145.12" height="19.39" fill="#f59e0b"/><rect x="1496.09" y="1505.31" width="145.12" height="19.39" fill="#f97316"/><path d="M1496.09 1505.31 L1496.09 1496.66 Q1496.09 1490.66 1502.09 1490.66 L1635.22 1490.66 Q1641.22 1490.66 1641.22 1496.66 L1641.22 1505.31 Z" fill="#ef4444"/><text x="1568.66" y="1613.60" font-size="18" text-anchor="middle" fill="#666666" font-family="Liberation Sans, sans-serif" >Inventory Finance</text><rect x="1697.66" y="1496.26" width="145.12" height="85.34" fill="#22c55e"/><rect x="1697.66" y="1442.82" width="145.12" height="53.44" fill="#f59e0b"/><path d="M1697.66 1442.82 L1697.66 1434.16 Q1697.66 1428.16 1703.66 1428.16 L1836.78 1428.16 Q1842.78 1428.16 1842.78 1434.16 L1842.78 1442.82 Z" fill="#f97316"/><text x="1770.22" y="1613.60" font-size="18" text-anchor="middle" fill="#666666" font-family="Liberation Sans, sans-serif" >Trade Finance</text><rect x="1193.50" y="1639.6" width="18" height="16.5" fill="#22c55e"/><text x="1219.75" y="1652.30" font-size="16.5" text-anchor="start" fill="#666666" font-family="Liberation Sans, sans-serif" >Low Risk</text><rect x="1301.69" y="1639.6" width="18" height="16.5" fill="#f59e0b"/><text x="1327.94" y="1652.30" font-size="16.5" text-anchor="start" fill="#666666" font-family="Liberation Sans, sans-serif" >Moderate Risk</text><rect x="1449.31" y="1639.6" width="18" height="16.5" fill="#f97316"/><text x="1475.56" y="1652.30" font-size="16.5" text-anchor="start" fill="#666666" font-family="Liberation Sans, sans-serif" >High Risk</text><rect x="1561.16" y="1639.6" width="18" height="16.5" fill="#ef4444"/><text x="1587.41" y="1652.30" font-size="16.5" text-anchor="start" fill="#666666" font-family="Liberation Sans, sans-serif" >Critical Risk</text></svg>
</section>
<section aria-label="Risk Concentration Analysis">
<div style="left:24px;top:1720px;width:1872px;height:447px;background:#fff;border:1px solid #e5e7eb;border-radius:12px;box-shadow:0 1px 3px rgba(0,0,0,.06);box-sizing:border-box;"></div>
<span class="t" style="top:1745.02px;font-size:21px;line-height:21px;color:#111827;letter-spacing:0.138px;-webkit-text-stroke:0.55px;left:49.00px;">Risk Concentration Analysis</span>
<div style="left:25px;top:1787px;width:1870px;height:1px;background:#f3f4f6;"></div>
<span class="t" style="top:1816.16px;font-size:18px;line-height:18px;color:#374151;letter-spacing:-0.054px;-webkit-text-stroke:0.55px;left:49.00px;">Top 5 Risky Segments</span>
<span class="t" style="top:1816.16px;font-size:18px;line-height:18px;color:#374151;letter-spacing:0.021px;-webkit-text-stroke:0.55px;left:664.33px;">Regional Risk Summary</span>
<span class="t" style="top:1816.16px;font-size:18px;line-height:18px;color:#374151;letter-spacing:0.432px;-webkit-text-stroke:0.55px;left:1279.67px;">Risk Mitigation Actions</span>
<div style="left:49px;top:1854px;width:591.333px;height:48px;background:#fef2f2;border-radius:6px;"></div>
<span class="t" style="top:1869.96px;font-size:18px;line-height:18px;color:#374151;letter-spacing:-0.358px;left:61.00px;">Makassar - Trade Finance</span>
<span class="t" style="top:1869.96px;font-size:18px;line-height:18px;color:#dc2626;letter-spacing:-0.253px;font-weight:700;left:578.81px;">13.4%</span>
<div style="left:49px;top:1914px;width:591.333px;height:48px;background:#fef2f2;border-radius:6px;"></div>
<span class="t" style="top:1929.96px;font-size:18px;line-height:18px;color:#374151;letter-spacing:-0.032px;left:61.00px;">Medan - Inventory Finance</span>
<span class="t" style="top:1929.96px;font-size:18px;line-height:18px;color:#dc2626;letter-spacing:-0.054px;font-weight:700;left:579.01px;">11.2%</span>
<div style="left:49px;top:1974px;width:591.333px;height:48px;background:#fff7ed;border-radius:6px;"></div>
<span class="t" style="top:1989.96px;font-size:18px;line-height:18px;color:#374151;letter-spacing:-0.208px;left:61.00px;">Makassar - Inventory Finance</span>
<span class="t" style="top:1989.96px;font-size:18px;line-height:18px;color:#ea580c;letter-spacing:-0.253px;font-weight:700;left:578.81px;">13.4%</span>
<div style="left:49px;top:2034px;width:591.333px;height:48px;background:#fff7ed;border-radius:6px;"></div>
<span class="t" style="top:2049.96px;font-size:18px;line-height:18px;color:#374151;letter-spacing:-0.236px;left:61.00px;">Makassar - Equipment Finance</span>
<span class="t" style="top:2049.96px;font-size:18px;line-height:18px;color:#ea580c;letter-spacing:-0.343px;font-weight:700;left:588.83px;">9.8%</span>
<div style="left:49px;top:2094px;width:591.333px;height:48px;background:#fff7ed;border-radius:6px;"></div>
<span class="t" style="top:2109.96px;font-size:18px;line-height:18px;color:#374151;letter-spacing:-0.105px;left:61.00px;">Bandung - Inventory Finance</span>
<span class="t" style="top:2109.96px;font-size:18px;line-height:18px;color:#ea580c;letter-spacing:-0.343px;font-weight:700;left:588.83px;">5.2%</span>
<div style="left:664.333px;top:1854px;width:591.333px;height:36px;background:#f9fafb;"></div>
<span class="t" style="top:1863.66px;font-size:18px;line-height:18px;color:#4b5563;letter-spacing:0.110px;-webkit-text-stroke:0.55px;left:676.33px;">Region</span>
<span class="t" style="top:1863.66px;font-size:18px;line-height:18px;color:#4b5563;letter-spacing:-0.168px;-webkit-text-stroke:0.55px;left:877.03px;">Exposure</span>
<span class="t" style="top:1863.66px;font-size:18px;line-height:18px;color:#4b5563;letter-spacing:-0.001px;-webkit-text-stroke:0.55px;left:1077.03px;">Avg NPL</span>
<span class="t" style="top:1899.56px;font-size:18px;line-height:18px;color:#374151;letter-spacing:-0.545px;left:676.33px;">Jakarta</span>
<span class="t" style="top:1899.56px;font-size:18px;line-height:18px;color:#4b5563;letter-spacing:-0.618px;left:877.03px;">$1.165B</span>
<span class="t" style="top:1899.56px;font-size:18px;line-height:18px;color:#16a34a;letter-spacing:-0.857px;-webkit-text-stroke:0.55px;left:1077.03px;">1.1%</span>
<div style="left:664.333px;top:1926px;width:591.333px;height:1px;background:#f3f4f6;"></div>
<span class="t" style="top:1936.56px;font-size:18px;line-height:18px;color:#374151;letter-spacing:-0.542px;left:676.33px;">Surabaya</span>
<span class="t" style="top:1936.56px;font-size:18px;line-height:18px;color:#4b5563;letter-spacing:-0.012px;left:877.03px;">$693M</span>
<span class="t" style="top:1936.56px;font-size:18px;line-height:18px;color:#d97706;letter-spacing:-0.369px;-webkit-text-stroke:0.55px;left:1077.03px;">2.3%</span>
<div style="left:664.333px;top:1963px;width:591.333px;height:1px;background:#f3f4f6;"></div>
<span class="t" style="top:1973.56px;font-size:18px;line-height:18px;color:#374151;letter-spacing:-0.128px;left:676.33px;">Bandung</span>
<span class="t" style="top:1973.56px;font-size:18px;line-height:18px;color:#4b5563;letter-spacing:-0.012px;left:877.03px;">$355M</span>
<span class="t" style="top:1973.56px;font-size:18px;line-height:18px;color:#d97706;letter-spacing:-0.369px;-webkit-text-stroke:0.55px;left:1077.03px;">2.6%</span>
<div style="left:664.333px;top:2000px;width:591.333px;height:1px;background:#f3f4f6;"></div>
<span class="t" style="top:2010.56px;font-size:18px;line-height:18px;color:#374151;letter-spacing:0.093px;left:676.33px;">Medan</span>
<span class="t" style="top:2010.56px;font-size:18px;line-height:18px;color:#4b5563;letter-spacing:-0.012px;left:877.03px;">$270M</span>
<span class="t" style="top:2010.56px;font-size:18px;line-height:18px;color:#ea580c;letter-spacing:-0.369px;-webkit-text-stroke:0.55px;left:1077.03px;">5.7%</span>
<div style="left:664.333px;top:2037px;width:591.333px;height:1px;background:#f3f4f6;"></div>
<span class="t" style="top:2047.56px;font-size:18px;line-height:18px;color:#374151;letter-spacing:-0.487px;left:676.33px;">Makassar</span>
<span class="t" style="top:2047.56px;font-size:18px;line-height:18px;color:#4b5563;letter-spacing:-0.012px;left:877.03px;">$189M</span>
<span class="t" style="top:2047.56px;font-size:18px;line-height:18px;color:#dc2626;letter-spacing:-0.369px;-webkit-text-stroke:0.55px;left:1077.03px;">8.2%</span>
<svg style="left:1279.87px;top:1860px;width:18px;height:18px" viewBox="0 0 512 512"><path fill="#3b82f6" d="M256 0c4.600 0 9.200 1 13.400 2.900L457.700 82.800c22 9.300 38.400 31 38.300 57.200c-.5 99.200-41.300 280.700-213.600 363.200c-16.700 8-36.100 8-52.800 0C57.300 420.700 16.500 239.200 16 140c-.1-26.200 16.300-47.900 38.300-57.200L242.700 2.900C246.800 1 251.400 0 256 0zm0 66.800V444.800C394 378 431.100 230.100 432 141.400L256 66.800l0 0z"/></svg>
<span class="t" style="top:1857.96px;font-size:18px;line-height:18px;color:#4b5563;letter-spacing:-0.098px;left:1309.67px;">Increase collateral requirements for Makassar region</span>
<svg style="left:1279.87px;top:1899px;width:22.5px;height:18px" viewBox="0 0 640 512"><path fill="#3b82f6" d="M224 256A128 128 0 1 0 224 0a128 128 0 1 0 0 256zm-45.700 48C79.800 304 0 383.800 0 482.300C0 498.700 13.300 512 29.700 512H418.300c1.800 0 3.500-.2 5.300-.5c-76.300-55.100-99.800-141-103.100-200.200c-16.100-4.800-33.100-7.300-50.700-7.300H178.300zm308.800-78.300l-120 48C358 277.400 352 286.200 352 296c0 63.300 25.900 168.800 134.800 214.200c5.900 2.500 12.600 2.500 18.500 0C614.100 464.800 640 359.300 640 296c0-9.800-6-18.600-15.100-22.300l-120-48c-5.700-2.300-12.100-2.300-17.800 0zM591.400 312c-3.900 50.700-27.200 116.700-95.400 149.700V273.800L591.400 312z"/></svg>
<span class="t" style="top:1896.96px;font-size:18px;line-height:18px;color:#4b5563;letter-spacing:0.045px;left:1314.17px;">Enhanced monitoring for high-risk segments</span>
<svg style="left:1279.87px;top:1938px;width:18px;height:18px" viewBox="0 0 512 512"><path fill="#3b82f6" d="M64 64c0-17.700-14.300-32-32-32S0 46.300 0 64V400c0 44.200 35.800 80 80 80H480c17.700 0 32-14.300 32-32s-14.300-32-32-32H80c-8.800 0-16-7.200-16-16V64zm406.600 86.600c12.500-12.500 12.500-32.800 0-45.300s-32.800-12.500-45.300 0L320 210.700l-57.400-57.400c-12.500-12.500-32.800-12.500-45.300 0l-112 112c-12.500 12.500-12.500 32.800 0 45.300s32.800 12.500 45.300 0L240 221.300l57.400 57.400c12.500 12.500 32.800 12.500 45.300 0l128-128z"/></svg>
<span class="t" style="top:1935.96px;font-size:18px;line-height:18px;color:#4b5563;letter-spacing:-0.146px;left:1309.67px;">Reduce exposure limits for critical risk areas</span>
<svg style="left:1279.87px;top:1977px;width:18px;height:18px" viewBox="0 0 512 512"><path fill="#3b82f6" d="M164.900 24.600c-7.700-18.600-28-28.500-47.400-23.200l-88 24C12.100 30.200 0 46 0 64C0 311.400 200.600 512 448 512c18 0 33.800-12.100 38.600-29.500l24-88c5.300-19.400-4.600-39.700-23.200-47.400l-96-40c-16.300-6.800-35.200-2.100-46.300 11.600L304.700 368C234.300 334.700 177.300 277.700 144 207.300L193.300 167c13.700-11.200 18.400-30 11.600-46.300l-40-96z" transform="translate(512,0) scale(-1,1)"/></svg>
<span class="t" style="top:1974.96px;font-size:18px;line-height:18px;color:#4b5563;letter-spacing:0.049px;left:1309.67px;">Intensify collection efforts for overdue accounts</span>
<svg style="left:1279.87px;top:2016px;width:13.5px;height:18px" viewBox="0 0 384 512"><path fill="#3b82f6" d="M64 0C28.700 0 0 28.700 0 64V448c0 35.300 28.700 64 64 64H320c35.300 0 64-28.700 64-64V160H256c-17.700 0-32-14.300-32-32V0H64zM256 0V128H384L256 0zM112 256H272c8.800 0 16 7.200 16 16s-7.200 16-16 16H112c-8.800 0-16-7.200-16-16s7.200-16 16-16zm0 64H272c8.800 0 16 7.200 16 16s-7.200 16-16 16H112c-8.800 0-16-7.200-16-16s7.200-16 16-16zm0 64H272c8.800 0 16 7.200 16 16s-7.200 16-16 16H112c-8.800 0-16-7.200-16-16s7.200-16 16-16z"/></svg>
<span class="t" style="top:2013.96px;font-size:18px;line-height:18px;color:#4b5563;letter-spacing:-0.069px;left:1305.17px;">Review credit policies for high NPL regions</span>
</section></main>
</div></body></html>
